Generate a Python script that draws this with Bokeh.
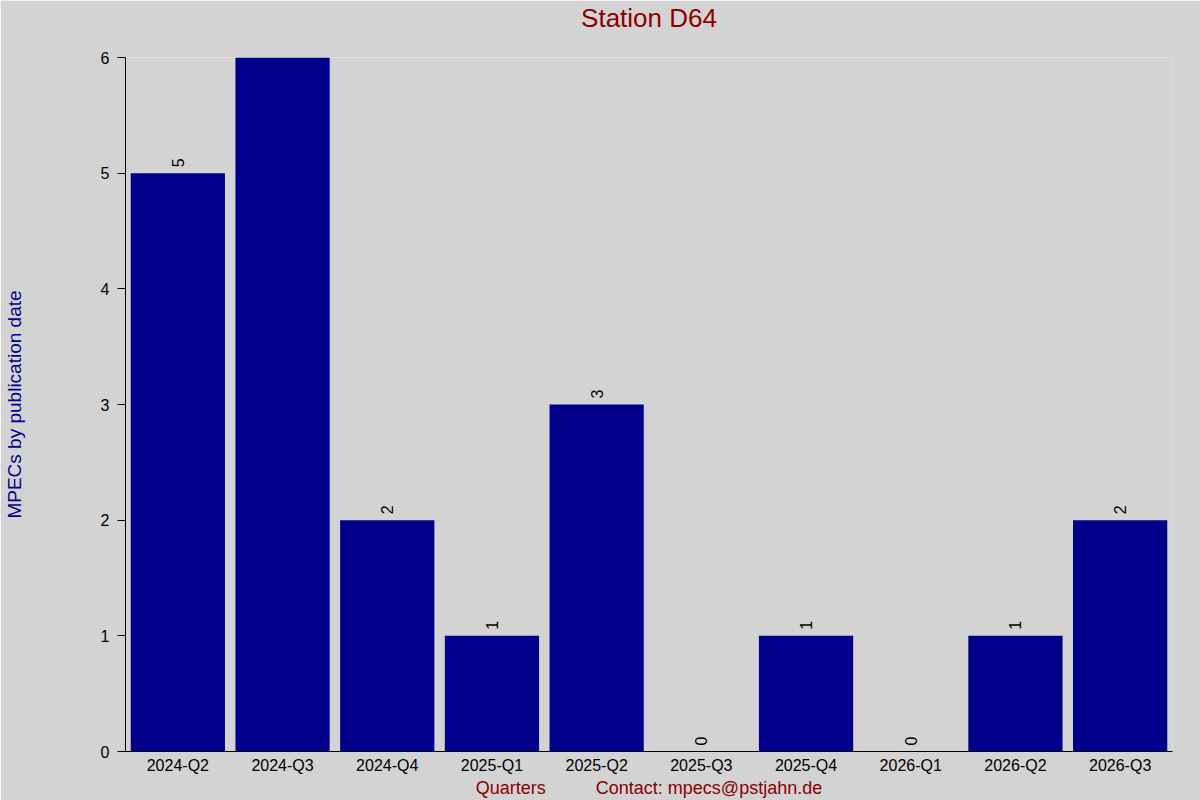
import math
from bokeh.plotting import figure
from bokeh.models import ColumnDataSource, FixedTicker, Range1d, Title
from bokeh.core.properties import value
from bokeh.embed import file_html
from bokeh.resources import INLINE

quarters = ["2024-Q2", "2024-Q3", "2024-Q4", "2025-Q1", "2025-Q2",
            "2025-Q3", "2025-Q4", "2026-Q1", "2026-Q2", "2026-Q3"]
counts = [5, 6, 2, 1, 3, 0, 1, 0, 1, 2]

FONT = "Liberation Sans"
DARKRED = "#8b0000"
DARKBLUE = "#00008b"
NBSP = "\u00a0"

src = ColumnDataSource(data=dict(q=quarters, n=counts, lab=[str(c) for c in counts]))

p = figure(x_range=quarters, y_range=Range1d(0, 6),
           width=1200, height=800, output_backend="svg", toolbar_location=None,
           min_border_left=125, min_border_right=28, min_border_top=57,
           min_border_bottom=49)
p.background_fill_color = "#d3d3d3"
p.border_fill_color = "#d3d3d3"
p.outline_line_color = None
p.grid.visible = False
p.x_range.range_padding = 0

p.title.text = "Station D64"
p.title.align = "center"
p.title.text_font = FONT
p.title.text_font_style = "normal"
p.title.text_font_size = "26px"
p.title.text_color = DARKRED
p.title.standoff = 0
# blank spacer between the title and the plot area
p.add_layout(Title(text=" ", text_font_size="1px", standoff=22), "above")

p.vbar(x="q", top="n", width=0.9, source=src, color="#00008b", line_color=None)
p.text(x="q", y="n", text="lab", source=src, angle=math.pi / 2,
       text_align="left", text_baseline="middle", y_offset=-6,
       text_font=value(FONT), text_font_size="16px", text_color="black")

# y axis
p.yaxis.ticker = FixedTicker(ticks=[0, 1, 2, 3, 4, 5, 6])
p.yaxis.minor_tick_line_color = None
p.yaxis.major_tick_in = 0
p.yaxis.major_tick_out = 8
p.yaxis.major_label_standoff = 8
p.yaxis.major_label_text_font = FONT
p.yaxis.major_label_text_font_size = "16px"
p.yaxis.major_label_text_color = "black"
p.yaxis.axis_line_color = "black"
p.yaxis.axis_label = "MPECs by publication date"
p.yaxis.axis_label_text_font = FONT
p.yaxis.axis_label_text_font_style = "normal"
p.yaxis.axis_label_text_font_size = "19px"
p.yaxis.axis_label_text_color = DARKBLUE
p.yaxis.axis_label_standoff = 73

# x axis
p.xaxis.major_tick_line_color = None
p.xaxis.major_tick_in = 0
p.xaxis.major_tick_out = 0
p.xaxis.major_label_standoff = 5
p.xaxis.major_label_text_font = FONT
p.xaxis.major_label_text_font_size = "16px"
p.xaxis.major_label_text_color = "black"
p.xaxis.axis_line_color = "black"
p.xaxis.axis_label = "Quarters" + NBSP * 10 + "Contact: mpecs@pstjahn.de"
p.xaxis.axis_label_text_font = FONT
p.xaxis.axis_label_text_font_style = "normal"
p.xaxis.axis_label_text_font_size = "18px"
p.xaxis.axis_label_text_color = DARKRED
p.xaxis.axis_label_standoff = 1

open("out.html", "w").write(file_html(p, INLINE))
